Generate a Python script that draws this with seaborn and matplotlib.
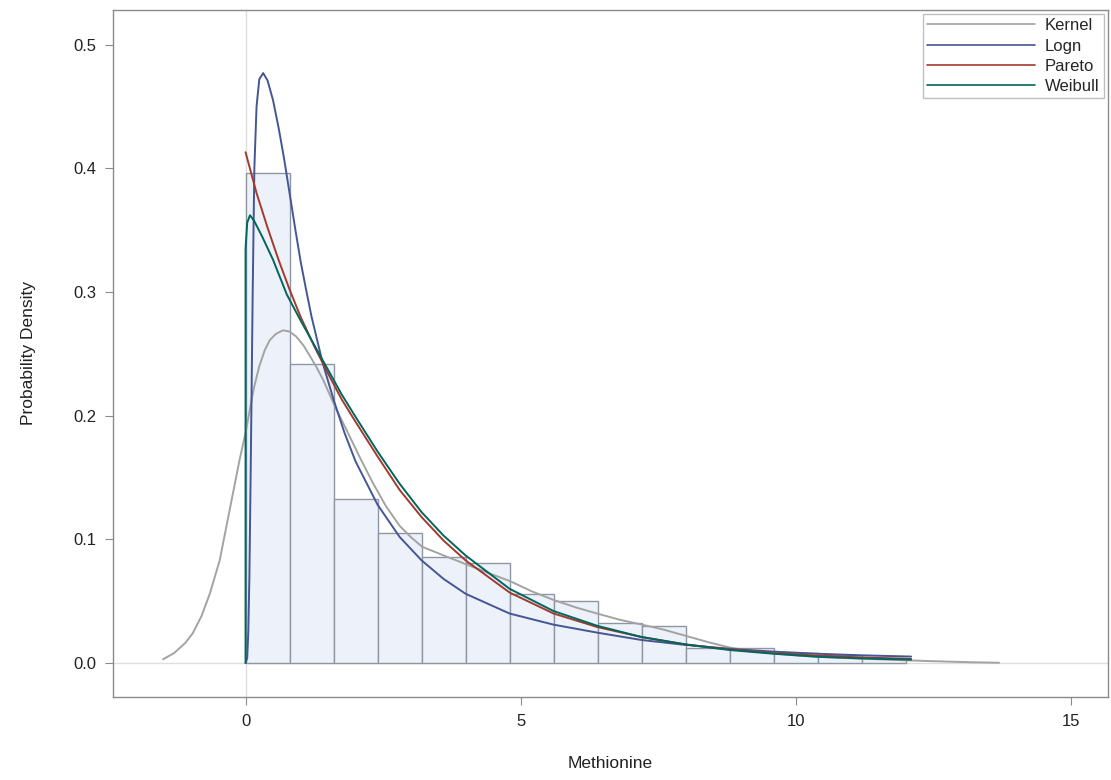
import matplotlib.pyplot as plt
import seaborn as sns

# histogram bins (Methionine) and bar heights (density)
bin_edges = [0.0, 0.8, 1.6, 2.4, 3.2, 4.0, 4.8, 5.6, 6.4, 7.2, 8.0, 8.8, 9.6, 10.4, 11.2, 12.0]
bar_heights = [0.396, 0.242, 0.133, 0.105, 0.086, 0.081, 0.056, 0.050, 0.032, 0.030,
               0.012, 0.0125, 0.008, 0.0065, 0.004]

# fitted / kernel density curves
kernel_x = [-1.50, -1.30, -1.10, -0.96, -0.80, -0.65, -0.47, -0.35, -0.23, -0.11, 0.0, 0.07,
            0.15, 0.25, 0.35, 0.44, 0.55, 0.68, 0.80, 0.92, 1.05, 1.16, 1.28, 1.41, 1.53,
            1.65, 1.83, 2.07, 2.31, 2.55, 2.80, 3.0, 3.21, 3.6, 4.0, 4.4, 4.82, 5.2, 5.6,
            6.0, 6.39, 6.8, 7.21, 7.6, 8.0, 8.4, 8.8, 9.2, 9.6, 10.0, 10.4, 10.8, 11.2,
            11.6, 12.0, 12.4, 12.8, 13.2, 13.7]
kernel_y = [0.003, 0.008, 0.016, 0.024, 0.038, 0.056, 0.083, 0.110, 0.137, 0.164, 0.186, 0.203,
            0.222, 0.240, 0.253, 0.261, 0.266, 0.269, 0.268, 0.264, 0.257, 0.249, 0.240, 0.229,
            0.217, 0.205, 0.189, 0.167, 0.146, 0.127, 0.111, 0.102, 0.094, 0.087, 0.080, 0.073,
            0.066, 0.058, 0.051, 0.045, 0.040, 0.035, 0.031, 0.027, 0.022, 0.017, 0.0125,
            0.0097, 0.0077, 0.0062, 0.0051, 0.0042, 0.0035, 0.0028, 0.0022, 0.0016, 0.0011,
            0.0006, 0.0002]

logn_x = [0.0, 0.03, 0.05, 0.07, 0.10, 0.13, 0.16, 0.20, 0.25, 0.32, 0.40, 0.50, 0.60, 0.70,
          0.80, 0.90, 1.0, 1.1, 1.2, 1.4, 1.6, 1.8, 2.0, 2.4, 2.8, 3.2, 3.6, 4.0, 4.8, 5.6,
          6.4, 7.2, 8.0, 8.8, 9.6, 10.4, 11.2, 12.1]
logn_y = [0.0, 0.004, 0.025, 0.070, 0.180, 0.300, 0.400, 0.450, 0.472, 0.477, 0.471, 0.455,
          0.433, 0.408, 0.380, 0.352, 0.325, 0.302, 0.280, 0.243, 0.213, 0.186, 0.163, 0.128,
          0.102, 0.083, 0.068, 0.056, 0.040, 0.031, 0.0245, 0.0186, 0.0146, 0.0115, 0.0092,
          0.0075, 0.0062, 0.0052]

pareto_x = [0.0, 0.2, 0.4, 0.6, 0.8, 1.0, 1.25, 1.5, 1.75, 2.0, 2.4, 2.8, 3.2, 3.6, 4.0, 4.8,
            5.6, 6.4, 7.2, 8.0, 8.8, 9.6, 10.4, 11.2, 12.1]
pareto_y = [0.413, 0.380, 0.352, 0.326, 0.302, 0.280, 0.256, 0.234, 0.213, 0.195, 0.167, 0.140,
            0.118, 0.099, 0.083, 0.057, 0.040, 0.029, 0.021, 0.015, 0.011, 0.008, 0.006,
            0.0045, 0.0033]

weibull_x = [0.0, 0.0, 0.03, 0.08, 0.15, 0.3, 0.5, 0.75, 1.0, 1.25, 1.5, 1.75, 2.0, 2.4, 2.8,
             3.2, 3.6, 4.0, 4.8, 5.6, 6.4, 7.2, 8.0, 8.8, 9.6, 10.4, 11.2, 12.1]
weibull_y = [0.0, 0.335, 0.356, 0.362, 0.358, 0.345, 0.326, 0.298, 0.277, 0.257, 0.237, 0.217,
             0.199, 0.171, 0.145, 0.122, 0.103, 0.087, 0.060, 0.042, 0.030, 0.021, 0.015,
             0.0105, 0.0075, 0.005, 0.0037, 0.0027]

sns.set_style("white")
plt.rcParams['font.family'] = ['Liberation Sans', 'DejaVu Sans']

fig = plt.figure(figsize=(11.11, 7.8), dpi=100)
ax = fig.add_axes([0.1017, 0.1064, 0.8956, 0.8808])

# reference lines at zero
ax.axvline(0, color='#dedede', lw=1, zorder=0)
ax.axhline(0, color='#dedede', lw=1, zorder=0)

centers = [(a + b) / 2 for a, b in zip(bin_edges[:-1], bin_edges[1:])]
sns.histplot(x=centers, weights=bar_heights, bins=bin_edges, stat='count',
             color='#edf1f9', edgecolor='#8e96a4', linewidth=1, alpha=1, ax=ax)

curves = [
    ('Kernel', kernel_x, kernel_y, '#a3a3a3'),
    ('Logn', logn_x, logn_y, '#445694'),
    ('Pareto', pareto_x, pareto_y, '#a23a2e'),
    ('Weibull', weibull_x, weibull_y, '#01665e'),
]
for name, xs, ys, col in curves:
    sns.lineplot(x=xs, y=ys, color=col, lw=1.4, label=name, estimator=None, sort=False, ax=ax)

ax.set_xlim(-2.41, 15.68)
ax.set_ylim(-0.0275, 0.528)
ax.set_xticks([0, 5, 10, 15])
ax.set_yticks([0.0, 0.1, 0.2, 0.3, 0.4, 0.5])
ax.set_yticklabels([f"{v:.1f}" for v in [0.0, 0.1, 0.2, 0.3, 0.4, 0.5]])
ax.tick_params(bottom=True, left=True, direction='out', length=6, color='#8a8a8a',
               labelsize=12, labelcolor='#222222', pad=6)
for sp in ax.spines.values():
    sp.set_color('#8a8a8a')
    sp.set_linewidth(1)

ax.set_xlabel('Methionine', fontsize=12.5, color='#222222', labelpad=20)
ax.set_ylabel('Probability Density', fontsize=12.5, color='#222222', labelpad=27)

leg = ax.legend(loc='upper right', frameon=True, fancybox=False, edgecolor='#b0b0b0',
                fontsize=12, handlelength=6.5, handletextpad=0.6, borderpad=0.25,
                labelspacing=0.32, borderaxespad=0.25)
leg.get_frame().set_linewidth(1)
for line in leg.get_lines():
    line.set_linewidth(1.2)

fig.savefig('out.png', dpi=100)
